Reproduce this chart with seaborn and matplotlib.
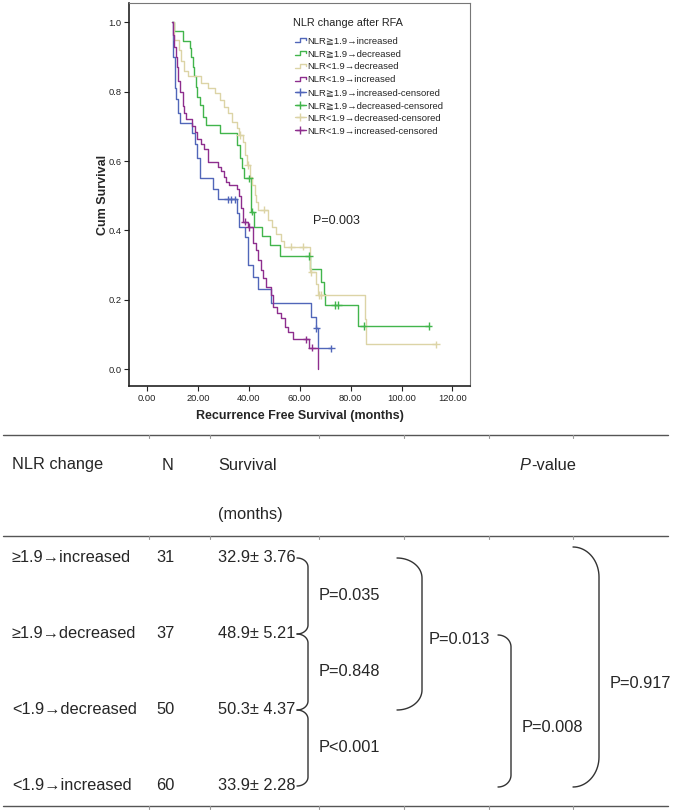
import numpy as np
import pandas as pd
import matplotlib
matplotlib.use("Agg")
import matplotlib.pyplot as plt
import seaborn as sns
from matplotlib.lines import Line2D
from matplotlib.legend_handler import HandlerBase

sns.set_style("white")
plt.rcParams['font.family'] = ['Liberation Sans', 'DejaVu Sans']

# Kaplan-Meier curves (time in months, cumulative survival)
groups = ["NLR≧1.9→increased", "NLR≧1.9→decreased", "NLR<1.9→decreased", "NLR<1.9→increased"]
colors = ["#5166b9", "#42b54c", "#dcd4a6", "#8e2e8e"]

t_hi_inc = [10.0, 10.4, 10.9, 11.4, 12.0, 13.0, 17.5, 18.8, 19.8, 20.8, 26.0, 28.0, 35.2, 36.2,
            38.4, 39.5, 41.7, 43.7, 48.9, 64.6, 66.5, 67.2]
s_hi_inc = [1.0, 0.90, 0.81, 0.78, 0.74, 0.71, 0.68, 0.65, 0.61, 0.55, 0.52, 0.49, 0.45, 0.41,
            0.38, 0.30, 0.265, 0.23, 0.19, 0.15, 0.117, 0.06]

t_hi_dec = [10.0, 10.6, 14.2, 16.9, 17.3, 17.9, 18.5, 19.1, 19.6, 21.0, 22.0, 23.0, 28.6, 35.5,
            36.5, 37.3, 38.2, 41.0, 42.0, 45.0, 48.2, 52.2, 63.9, 68.5, 69.4, 69.8, 82.9]
s_hi_dec = [1.0, 0.974, 0.947, 0.925, 0.90, 0.87, 0.844, 0.815, 0.786, 0.762, 0.728, 0.704, 0.68, 0.646,
            0.608, 0.579, 0.55, 0.454, 0.41, 0.385, 0.358, 0.326, 0.29, 0.252, 0.216, 0.185, 0.124]

t_lo_dec = [10.0, 10.8, 12.5, 13.5, 14.5, 16.0, 21.4, 23.8, 26.7, 28.6, 30.4, 31.9, 33.2, 35.2,
            36.0, 37.8, 38.4, 39.1, 40.4, 41.4, 42.4, 43.0, 43.7, 47.5, 49.0, 50.5, 52.5, 54.0,
            63.9, 66.5, 67.0, 85.5, 86.2]
s_lo_dec = [1.0, 0.95, 0.92, 0.89, 0.86, 0.844, 0.824, 0.81, 0.795, 0.776, 0.757, 0.738, 0.714, 0.694,
            0.675, 0.656, 0.618, 0.589, 0.555, 0.53, 0.502, 0.483, 0.46, 0.43, 0.41, 0.39, 0.37, 0.353,
            0.28, 0.245, 0.214, 0.143, 0.071]

t_lo_inc = [10.0, 10.4, 10.8, 11.2, 11.6, 12.3, 13.0, 14.0, 14.5, 15.5, 17.8, 18.8, 19.8, 21.2,
            22.5, 24.0, 28.0, 29.0, 30.3, 31.2, 32.3, 35.2, 36.1, 36.9, 37.8, 39.5, 41.7, 42.7,
            43.7, 44.6, 45.6, 46.9, 48.9, 49.5, 50.9, 52.8, 54.1, 55.4, 57.4, 63.5, 67.2]
s_lo_inc = [1.0, 0.965, 0.93, 0.90, 0.87, 0.83, 0.80, 0.76, 0.74, 0.72, 0.70, 0.685, 0.665, 0.65,
            0.635, 0.598, 0.584, 0.57, 0.555, 0.54, 0.53, 0.52, 0.50, 0.465, 0.425, 0.41, 0.363, 0.343,
            0.315, 0.286, 0.262, 0.238, 0.214, 0.18, 0.161, 0.146, 0.122, 0.108, 0.086, 0.062, 0.0]

# censored observations
ct_hi_inc = [31.8, 33.1, 34.4, 66.5, 72.4]
cs_hi_inc = [0.49, 0.49, 0.49, 0.117, 0.06]
ct_hi_dec = [40.2, 41.4, 63.7, 73.7, 75.0, 85.1, 110.7]
cs_hi_dec = [0.55, 0.454, 0.326, 0.185, 0.185, 0.124, 0.124]
ct_lo_dec = [36.5, 39.6, 46.0, 56.7, 61.3, 64.6, 67.5, 68.5, 113.6]
cs_lo_dec = [0.675, 0.589, 0.46, 0.353, 0.353, 0.28, 0.214, 0.214, 0.071]
ct_lo_inc = [38.4, 40.1, 62.6, 64.8]
cs_lo_inc = [0.425, 0.41, 0.086, 0.062]

p_overall = "P=0.003"

# table below the chart
tbl_groups = ["≥1.9→increased", "≥1.9→decreased", "<1.9→decreased", "<1.9→increased"]
tbl_n = [31, 37, 50, 60]
tbl_mean = [32.9, 48.9, 50.3, 33.9]
tbl_se = [3.76, 5.21, 4.37, 2.28]
p_adjacent = ["P=0.035", "P=0.848", "P<0.001"]
p_13 = "P=0.013"
p_24 = "P=0.008"
p_14 = "P=0.917"

curves = [(t_hi_inc, s_hi_inc), (t_hi_dec, s_hi_dec), (t_lo_dec, s_lo_dec), (t_lo_inc, s_lo_inc)]
censors = [(ct_hi_inc, cs_hi_inc), (ct_hi_dec, cs_hi_dec), (ct_lo_dec, cs_lo_dec), (ct_lo_inc, cs_lo_inc)]

frames = []
for g, (t, s), (ct, cs) in zip(groups, curves, censors):
    t, s = list(t), list(s)
    # the curve runs on flat to the last censored case
    if max(ct) > t[-1] and s[-1] > 0:
        t.append(max(ct))
        s.append(s[-1])
    frames.append(pd.DataFrame({"group": g, "time": t, "surv": s}))
km = pd.concat(frames)
cens = pd.concat([pd.DataFrame({"group": g, "time": t, "surv": s}) for g, (t, s) in zip(groups, censors)])
pal = dict(zip(groups, colors))

W, H = 675, 811
fig = plt.figure(figsize=(W / 100, H / 100), dpi=100)

# overlay in pixel coordinates for the table
tab = fig.add_axes([0, 0, 1, 1])
tab.set_xlim(0, W)
tab.set_ylim(H, 0)
tab.axis("off")

# KM plot
L, R, T, B = 129, 470, 3, 386
ax = fig.add_axes([L / W, 1 - B / H, (R - L) / W, (B - T) / H])
sns.lineplot(data=km, x="time", y="surv", hue="group", palette=pal, estimator=None, sort=False,
             drawstyle="steps-post", linewidth=1.0, legend=False, ax=ax)
sns.scatterplot(data=cens, x="time", y="surv", hue="group", palette=pal, marker="+", s=28,
                linewidth=1.0, legend=False, ax=ax, zorder=5)

ax.set_xlim(-7.07, 126.9)
ax.set_ylim(-0.049, 1.056)
ax.set_xticks(np.arange(0, 121, 20))
ax.set_xticklabels([f"{v:.2f}" for v in np.arange(0, 121, 20)])
ax.set_yticks(np.arange(0, 1.01, 0.2))
ax.set_yticklabels([f"{v:.1f}" for v in np.arange(0, 1.01, 0.2)])
ax.tick_params(direction="out", length=3.5, width=0.8, labelsize=6.7, pad=2, colors="#222222")
ax.tick_params(axis="x", bottom=True)
ax.tick_params(axis="y", left=True)
for side in ["left", "bottom"]:
    ax.spines[side].set_color("#222222")
    ax.spines[side].set_linewidth(1.2)
for side in ["top", "right"]:
    ax.spines[side].set_color("#777777")
    ax.spines[side].set_linewidth(0.8)

ax.set_xlabel("Recurrence Free Survival (months)", fontsize=9, fontweight="bold")
ax.set_ylabel("Cum Survival", fontsize=9, fontweight="bold")
ax.xaxis.set_label_coords(0.5, -0.063)
ax.yaxis.set_label_coords(-0.059, 0.5)

ax.text(65.1, 0.427, p_overall, fontsize=9, va="center", ha="left", color="#222222")


class StepHandler(HandlerBase):
    def create_artists(self, legend, orig_handle, xdescent, ydescent, width, height, fontsize, trans):
        x0, y0 = -xdescent, -ydescent
        xs = [x0, x0 + 0.45 * width, x0 + 0.45 * width, x0 + width, x0 + width]
        ys = [y0 + 0.2 * height, y0 + 0.2 * height, y0 + 0.75 * height, y0 + 0.75 * height, y0 + 0.45 * height]
        return [Line2D(xs, ys, color=orig_handle.get_color(), lw=1.0, transform=trans)]


step_handles = [Line2D([], [], color=c, lw=1.0) for c in colors]
cens_handles = [Line2D([], [], color=c, lw=1.0, marker="+", markersize=6, markeredgewidth=1.0) for c in colors]
handles = step_handles + cens_handles
labels = groups + [g + "-censored" for g in groups]
ax.legend(handles, labels, handler_map={h: StepHandler() for h in step_handles},
          loc="upper left", bbox_to_anchor=((295 - L) / (R - L), (B - 36) / (B - T)),
          frameon=False, fontsize=6.8, handlelength=1.15, handletextpad=0.2, labelspacing=0.42,
          borderpad=0, borderaxespad=0)
ax.text((293 - L) / (R - L), (B - 23) / (B - T), "NLR change after RFA", transform=ax.transAxes,
        fontsize=7.8, va="center", ha="left", color="#222222")

# ---- table ----
fs = 11.8
line_kw = dict(color="#555555", lw=1.0)
col_ticks = [149, 210, 319, 404, 489, 573]
for yl in [435, 536, 806]:
    tab.plot([3, 668], [yl, yl], **line_kw)
    for xc in col_ticks:
        tab.plot([xc, xc], [yl, yl + 2.5], color="#999999", lw=0.8)

tab.text(12, 465, "NLR change", fontsize=fs, va="center")
tab.text(162, 465, "N", fontsize=fs, va="center")
tab.text(218, 465, "Survival", fontsize=fs, va="center")
tab.text(218, 515, "(months)", fontsize=fs, va="center")
ptxt = tab.text(520, 465, "P", fontsize=fs, va="center", style="italic")
tab.annotate("-value", xy=(1, 0), xycoords=ptxt, fontsize=fs, va="bottom", ha="left")

row_y = [558, 634, 710, 786]
for y, g, n, m, se in zip(row_y, tbl_groups, tbl_n, tbl_mean, tbl_se):
    tab.text(12, y, g, fontsize=fs, va="center")
    tab.text(156, y, str(n), fontsize=fs, va="center")
    tab.text(218, y, f"{m}± {se:.2f}", fontsize=fs, va="center")


def bracket(x0, x1, y0, y1, r):
    th = np.linspace(0, np.pi / 2, 20)
    a = x1 - x0
    top_x = x0 + a * np.sin(th)
    top_y = y0 + r - r * np.cos(th)
    bot_x = (x0 + a * np.sin(th))[::-1]
    bot_y = (y1 - r + r * np.cos(th))[::-1]
    xs = np.concatenate([top_x, bot_x])
    ys = np.concatenate([top_y, bot_y])
    tab.plot(xs, ys, color="#333333", lw=1.0)


for i, p in enumerate(p_adjacent):
    bracket(297, 308, row_y[i], row_y[i + 1], 9)
    tab.text(319, (row_y[i] + row_y[i + 1]) / 2, p, fontsize=fs, va="center")

bracket(397, 422, 558, 710, 20)
tab.text(429, 640, p_13, fontsize=fs, va="center")
bracket(498, 511, 635, 787, 12)
tab.text(522, 727, p_24, fontsize=fs, va="center")
bracket(573, 599, 547, 787, 30)
tab.text(610, 683, p_14, fontsize=fs, va="center")

fig.savefig("out.png", dpi=100)
